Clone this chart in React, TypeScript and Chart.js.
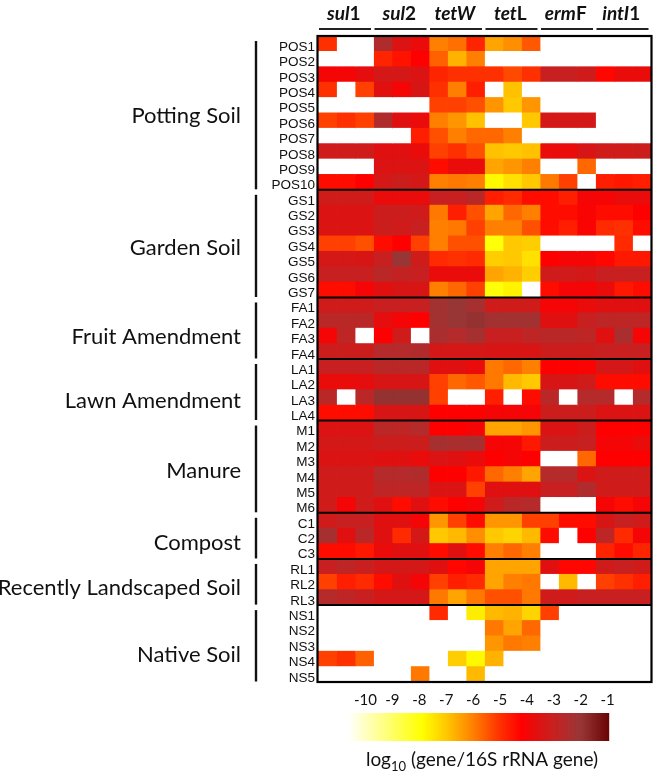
import React, { useEffect, useRef } from 'react';
import { Chart, registerables } from 'chart.js';
Chart.register(...registerables);

const _ = null;

// genes (columns), each measured in 3 replicates
const geneNames = ['sul1', 'sul2', 'tetW', 'tetL', 'ermF', 'intI1'];
const geneItalicLength = [3, 3, 4, 3, 3, 4];
const replicates = 3;

// sample groups (rows)
const groupNames = ['Potting Soil', 'Garden Soil', 'Fruit Amendment', 'Lawn Amendment', 'Manure', 'Compost', 'Recently Landscaped Soil', 'Native Soil'];
const groupPrefixes = ['POS', 'GS', 'FA', 'LA', 'M', 'C', 'RL', 'NS'];

// log10(gene/16S rRNA gene); null = not detected
const pottingSoil = [
  [-5, _, _, -2.5, -3.5, -3.8, -6, -5.8, -4.8, -6.5, -6.2, -5.5, _, _, _, _, _, _],
  [_, _, _, -4.8, -4.5, -4.2, -5.6, -6.7, -6, _, _, _, _, _, _, _, _, _],
  [-4, -4, -3.7, -3.3, -3.3, -3.5, -4.8, -5, -5, -5, -5.3, -5, -3, -3, -3.2, -4.3, -3.8, -3.8],
  [-5, _, -5.2, -3.6, -4, -3.4, -5, -6, -4.7, _, -6.9, _, _, _, _, _, _, _],
  [_, _, _, _, _, _, -5.2, -5.2, -5.4, -6.3, -7, -6.3, _, _, _, _, _, _],
  [-5.2, -5, -5.2, -2.5, -3.6, -3.8, -6, -6.3, -6.9, _, _, -7, -3.3, -3.3, -3.3, _, _, _],
  [_, _, _, _, _, -4.7, -5.4, -6, -5.7, -5.7, -6, _, _, _, _, _, _, _],
  [-3.2, -3.2, -3.2, -3.6, -3.6, -3.8, -5.2, -5, -5.4, -6.9, -7, -6.9, -3.8, -3.8, -3.4, -3.2, -3.2, -3.1],
  [_, _, _, -3.5, -3.5, -3.5, -4.4, -3.8, -3.8, -6.5, -6.3, -6, _, _, -5.7, _, _, _],
  [-4.4, -4.4, -4.2, -3.3, -3.1, -3.3, -6, -5.9, -6, -7.8, -7.4, -7, -5.9, -5.2, _, -4.7, -4.6, -4.7],
];
const gardenSoil = [
  [-3.2, -3.2, -3.2, -3.8, -3.8, -3.8, -3, -3, -2.7, -4.7, -4.9, -4.4, -4.4, -4.7, -4, -4, -3.8, -3.8],
  [-3.5, -3.5, -3.5, -3.1, -3.1, -3.2, -5.9, -4.7, -5.4, -6.5, -5.7, -6, -4.4, -4.4, -4.1, -4.4, -4.4, -4.2],
  [-3.5, -3.5, -3.5, -3.1, -3.2, -3, -6, -5.9, -5.2, -6, -6, -5.4, -4.4, -4.7, -4.1, -4.9, -5, -4.4],
  [-5.2, -5.2, -5.4, -4.4, -4.2, -5.2, -6, -5.4, -5.4, -8, -7, -7.1, _, _, _, _, -4.9, _],
  [-3.3, -3.3, -3.4, -3, -2, -3.2, -4.9, -5, -4.9, -7.1, -7, -7.4, -4.2, -4, -4, -4.3, -4.6, -4.6],
  [-3, -3, -3, -2.7, -2.9, -3, -3.8, -3.8, -3.8, -6.5, -6.7, -7.1, -3.2, -3.2, -3.3, -3, -3, -3],
  [-4.4, -4.4, -4, -3.6, -3.4, -3.4, -6, -5.7, -5.2, -8, -7.7, _, -4.4, -4, -4, -3.8, -4.6, -4.4],
];
const fruitAmendment = [
  [-3.2, -3.2, -3.2, -3, -3, -3, -2.2, -2, -2.3, -3.2, -3.2, -3.2, -4, -4, -3.8, -3.6, -3.6, -3.6],
  [-2.7, -2.7, -2.7, -3.7, -4, -4.2, -2.2, -2, -1.9, -2.2, -2.2, -2.2, -3.6, -3.6, -3, -2.8, -2.8, -2.8],
  [-4, -2.8, _, -4.2, -3.2, _, -2.4, -2.6, -2.3, -3, -3, -2.8, -2.7, -2.7, -2.8, -3.6, -2.4, -4],
  [-3.1, -3.1, -3.1, -2.6, -2.6, -2.5, -3.3, -3.3, -3.3, -3.4, -3.4, -3.4, -3.1, -3.1, -3.1, -3, -3, -3],
];
const lawnAmendment = [
  [-3, -3, -3, -2.7, -2.7, -2.7, -3.6, -3.6, -3.8, -5.9, -5.7, -6, -4.2, -4.2, -4.1, -3.3, -3.3, -3.6],
  [-3.8, -3.8, -3.7, -3.4, -3.4, -3.4, -5.2, -5.7, -5.5, -5.9, -6.8, -7, -3.4, -3.4, -3.2, -4.4, -4.4, -4.4],
  [-2.7, _, -2.7, -1.9, -1.9, -1.9, -5.2, _, _, -4.7, _, -4.4, -2.7, _, -2.6, -2.6, _, -2.6],
  [-4.4, -4.4, -4.4, -3.4, -3.4, -3.4, -4.2, -4.2, -4.2, -4, -4, -4, -3.1, -3.1, -3.1, -3.5, -3.5, -3.5],
];
const manure = [
  [-3.5, -3.5, -3.5, -2.7, -2.8, -2.6, -4.2, -4.2, -4, -6.5, -6.5, -6.3, -3.5, -3.5, -3.1, -4.2, -4.2, -4.2],
  [-3.3, -3.3, -3.3, -3.1, -3.1, -3.1, -2.3, -2.4, -2.3, -4, -4, -4.6, -3.1, -3.1, -3, -4, -4, -3.8],
  [-3.5, -3.5, -3.5, -3.6, -3.6, -3.8, -3.5, -3.6, -3.8, -4.2, -4, -4.2, _, _, -5.7, -4.2, -4.2, -4.2],
  [-3.2, -3.2, -3.2, -2.6, -2.6, -2.5, -4.2, -4.2, -4.6, -5.7, -6, -6.5, -2.6, -2.6, -3.5, -3.2, -3.2, -3.2],
  [-3.2, -3.2, -3.2, -2.8, -2.8, -2.8, -3.5, -3.5, -5.2, -3.6, -3.6, -3.6, -3, -3, -2.5, -3.2, -3.2, -3.2],
  [-3.2, -4, -3.2, -3.6, -4.4, -3.6, -4.4, -4.2, -4, -3.2, -2.7, -2.6, _, _, _, -4, -4.4, -4],
];
const compost = [
  [-3.2, -3, -3, -3.6, -3.6, -4, -6.3, -5.2, -4.4, -6.3, -6.3, -5.2, -5.2, -4.4, -4.4, -3.4, -3, -3.2],
  [-2.3, -3.6, -2.7, -3.6, -4.9, -3.3, -7, -6.8, -6.2, -7, -7.2, -6.8, -4.4, _, -4.2, -2.8, -4.9, -4],
  [-4.4, -4.4, -4.6, -3.8, -3.6, -3.6, -4.4, -3.6, -4.4, -6, -5.7, -6, _, _, _, -4.8, -4.4, -4.8],
];
const recentlyLandscapedSoil = [
  [-3, -2.8, -3, -3.3, -3.3, -3.3, -3.6, -4.3, -4, -6.5, -6.5, -6.5, -3.6, -4.3, -4.3, -3.2, -3, -3.2],
  [-5.2, -4.7, -4.9, -4.4, -3.6, -4, -5.2, -4.7, -4.9, -6.5, -6, -5.9, _, -6.8, _, -5.2, -5, -4.7],
  [-2.6, -2.8, -3, -3.3, -3.3, -3.3, -5.9, -6.5, -5.9, -5.4, -5.4, -5.9, -3.2, -3.2, -3, -3, -3, -3],
];
const nativeSoil = [
  [_, _, _, _, _, _, -4.9, _, -7.6, -6.8, -6.7, -7.2, -5.2, _, _, _, _, _],
  [_, _, _, _, _, _, _, _, _, -5.9, -6.5, -5.7, _, _, _, _, _, _],
  [_, _, _, _, _, _, _, _, _, -6.3, -5.9, -6, _, _, _, _, _, _],
  [-5.2, -5, -5.6, _, _, _, _, -7.1, -7.8, -6.7, _, _, _, _, _, _, _, _],
  [_, _, _, _, _, -5.9, _, _, -6.8, _, _, _, _, _, _, _, _, _],
];

const groupData = [pottingSoil, gardenSoil, fruitAmendment, lawnAmendment, manure, compost, recentlyLandscapedSoil, nativeSoil];

const colorbarTicks = [-10, -9, -8, -7, -6, -5, -4, -3, -2, -1];
const colorbarMin = -10.65;
const colorbarMax = -0.95;

const rowLabels = groupData.flatMap((rows, gi) => rows.map((_r, ri) => groupPrefixes[gi] + (ri + 1)));
const allRows = groupData.flat();

// colour scale
const colorStops: [number, number[]][] = [
  [-10.65, [255, 255, 255]],
  [-7.9, [255, 255, 0]],
  [-7, [255, 200, 0]],
  [-6, [255, 128, 0]],
  [-5, [255, 48, 0]],
  [-4.2, [255, 0, 0]],
  [-3.6, [224, 16, 16]],
  [-3, [200, 32, 32]],
  [-2.5, [176, 44, 44]],
  [-2, [152, 54, 54]],
  [-0.95, [107, 4, 4]],
];
function valueColor(v: number | null): string {
  if (v === null || v === undefined) return '#ffffff';
  if (v <= colorStops[0][0]) return 'rgb(255,255,255)';
  for (let i = 1; i < colorStops.length; i++) {
    const [v1, c1] = colorStops[i];
    const [v0, c0] = colorStops[i - 1];
    if (v <= v1) {
      const t = (v - v0) / (v1 - v0);
      const c = c0.map((a, k) => Math.round(a + (c1[k] - a) * t));
      return `rgb(${c[0]},${c[1]},${c[2]})`;
    }
  }
  const c = colorStops[colorStops.length - 1][1];
  return `rgb(${c[0]},${c[1]},${c[2]})`;
}

type Part = { t: string; italic?: boolean; sub?: boolean };
function drawRich(ctx: CanvasRenderingContext2D, parts: Part[], cx: number, y: number, size: number, weight: string) {
  const fonts = parts.map(p => `${p.italic ? 'italic ' : ''}${weight} ${p.sub ? Math.round(size * 0.66) : size}px Lato`);
  let total = 0;
  parts.forEach((p, i) => { ctx.font = fonts[i]; total += ctx.measureText(p.t).width; });
  let x = cx - total / 2;
  ctx.textAlign = 'left';
  ctx.textBaseline = 'alphabetic';
  parts.forEach((p, i) => {
    ctx.font = fonts[i];
    ctx.fillText(p.t, x, y + (p.sub ? size * 0.24 : 0));
    x += ctx.measureText(p.t).width;
  });
}

// layout of decorations (pixels / fractional row positions)
const groupLabelRow = [5.14, 13.7, 19.5, 23.7, 28.25, 32.9, 35.8, 40.2];
const groupLabelRight = 241;
const groupBarX = 256;
const groupFontSize = 22;
const cb = { left: 348, right: 609, top: 713, bottom: 741, tickY: 705, titleY: 766, titleX: 482 };

const decorPlugin = {
  id: 'decor',
  afterDatasetsDraw(chart: any) {
    const ctx: CanvasRenderingContext2D = chart.ctx;
    const xs = chart.scales.x;
    const ys = chart.scales.y;
    const n = rowLabels.length;
    const boundary = (k: number) => {
      if (k <= 0) return ys.getPixelForValue(0) - (ys.getPixelForValue(1) - ys.getPixelForValue(0)) / 2;
      if (k >= n) return ys.getPixelForValue(n - 1) + (ys.getPixelForValue(n - 1) - ys.getPixelForValue(n - 2)) / 2;
      return (ys.getPixelForValue(k - 1) + ys.getPixelForValue(k)) / 2;
    };
    const rowPos = (r: number) => boundary(0) + r * (boundary(n) - boundary(0)) / n;
    const left = xs.getPixelForValue(0);
    const right = xs.getPixelForValue(geneNames.length * replicates);
    ctx.save();

    // group separators
    ctx.strokeStyle = '#000';
    ctx.lineWidth = 2;
    let acc = 0;
    const starts: number[] = [];
    groupData.forEach((rows, gi) => {
      starts.push(acc);
      acc += rows.length;
      if (gi < groupData.length - 1) {
        const y = boundary(acc);
        ctx.beginPath(); ctx.moveTo(left, y); ctx.lineTo(right, y); ctx.stroke();
      }
    });
    // outer frame
    ctx.lineWidth = 2.2;
    ctx.strokeRect(left - 0.5, boundary(0), right - left + 1, boundary(n) - boundary(0));

    // gene headers with underlines
    ctx.fillStyle = '#111';
    geneNames.forEach((g, gi) => {
      const x0 = xs.getPixelForValue(gi * replicates);
      const x1 = xs.getPixelForValue((gi + 1) * replicates);
      const k = geneItalicLength[gi];
      const parts: Part[] = [{ t: g.slice(0, k), italic: true }];
      if (k < g.length) parts.push({ t: g.slice(k) });
      drawRich(ctx, parts, (x0 + x1) / 2 - 2, 20, 19, 'bold');
      ctx.strokeStyle = '#222';
      ctx.lineWidth = 2.2;
      ctx.beginPath(); ctx.moveTo(x0 + 1, 29); ctx.lineTo(x1 - 2.5, 29); ctx.stroke();
    });

    // group labels and brackets
    ctx.fillStyle = '#111';
    ctx.font = `${groupFontSize}px Lato`;
    ctx.textAlign = 'right';
    ctx.textBaseline = 'alphabetic';
    groupData.forEach((rows, gi) => {
      const yc = rowPos(groupLabelRow[gi]);
      ctx.fillText(groupNames[gi], groupLabelRight, yc + groupFontSize * 0.36);
      const yTop = boundary(starts[gi]) + 5;
      const yBot = boundary(starts[gi] + rows.length) - 0.5;
      ctx.strokeStyle = '#111';
      ctx.lineWidth = 2.4;
      ctx.beginPath(); ctx.moveTo(groupBarX, yTop); ctx.lineTo(groupBarX, yBot); ctx.stroke();
    });

    // colour bar
    const span = cb.right - cb.left;
    for (let px = 0; px < span; px++) {
      const v = colorbarMin + (px + 0.5) / span * (colorbarMax - colorbarMin);
      ctx.fillStyle = valueColor(v);
      ctx.fillRect(cb.left + px, cb.top, 1.2, cb.bottom - cb.top);
    }
    ctx.fillStyle = '#111';
    ctx.font = '15px Lato';
    ctx.textAlign = 'center';
    ctx.textBaseline = 'alphabetic';
    colorbarTicks.forEach(t => {
      const x = cb.left + (t - colorbarMin) / (colorbarMax - colorbarMin) * span;
      ctx.fillText(String(t), x, cb.tickY);
    });
    drawRich(ctx, [{ t: 'log' }, { t: '10', sub: true }, { t: ' (gene/16S rRNA gene)' }], cb.titleX, cb.titleY, 19, 'normal');
    ctx.restore();
  },
};

export default function App() {
  const ref = useRef<HTMLCanvasElement | null>(null);
  useEffect(() => {
    if (!ref.current) return;
    const nCols = geneNames.length * replicates;
    const datasets = Array.from({ length: nCols }, (_d, c) => ({
      label: `${geneNames[Math.floor(c / replicates)]} rep ${(c % replicates) + 1}`,
      data: allRows.map(() => [c, c + 1]),
      backgroundColor: allRows.map(r => valueColor(r[c])),
      borderWidth: 0,
      barPercentage: 1,
      categoryPercentage: 1,
      grouped: false,
      inflateAmount: 0.4,
    }));
    const chart = new Chart(ref.current, {
      type: 'bar',
      data: { labels: rowLabels, datasets: datasets as any },
      options: {
        animation: false,
        responsive: false,
        devicePixelRatio: 1,
        indexAxis: 'y',
        events: [],
        layout: { padding: { left: 0, right: 6, top: 36, bottom: 92 } },
        plugins: { legend: { display: false }, tooltip: { enabled: false }, title: { display: false } },
        scales: {
          x: { type: 'linear', min: 0, max: geneNames.length * replicates, display: false },
          y: {
            type: 'category',
            grid: { display: false, drawTicks: false },
            border: { display: false },
            ticks: {
              autoSkip: false,
              padding: 3,
              labelOffset: 3.5,
              color: '#111',
              font: { family: '"Liberation Sans", Arial, sans-serif', size: 13.5 },
            },
            afterFit: (scale: any) => { scale.width = 318; },
          },
        },
      } as any,
      plugins: [decorPlugin],
    });
    return () => chart.destroy();
  }, []);
  return (
    <div style={{ position: 'absolute', left: 0, top: 0, width: 657, height: 774, background: '#fff' }}>
      <canvas ref={ref} width={657} height={774} style={{ display: 'block', width: 657, height: 774 }} />
    </div>
  );
}
